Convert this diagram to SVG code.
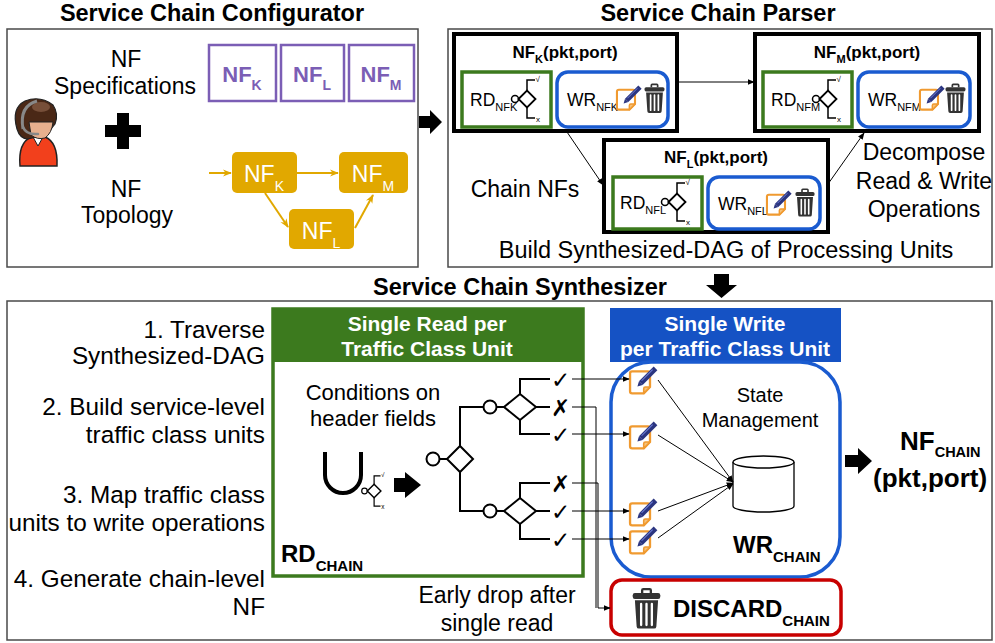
<svg xmlns="http://www.w3.org/2000/svg" width="995" height="643" viewBox="0 0 995 643">
<style>
  text { font-family: "Liberation Sans", Arial, sans-serif; fill: #000; }
  .t23 { font-size: 23px; }
  .step { font-size: 24.3px; text-anchor: end; }
  .title { font-size: 23.5px; font-weight: bold; text-anchor: middle; }
  .mid { text-anchor: middle; }
  .panel { fill: #fff; stroke: #4a4a4a; stroke-width: 1.5; }
  .spec { fill: #fff; stroke: #7b5eb5; stroke-width: 2.5; }
  .spect { font-size: 22px; font-weight: bold; fill: #7b5eb5; text-anchor: middle; }
  .topo { fill: #e1a800; }
  .topot { font-size: 23px; fill: #fff; text-anchor: middle; }
  .goldln { stroke: #e1a800; stroke-width: 2; fill: none; marker-end: url(#ag); }
  .nf { fill: #fff; stroke: #000; stroke-width: 4; }
  .nft { font-size: 17px; font-weight: bold; text-anchor: middle; }
  .rd { fill: #fff; stroke: #3c7a1e; stroke-width: 3.5; }
  .wr { fill: #fff; stroke: #1a5bd0; stroke-width: 3.5; }
  .unit { font-size: 17.5px; }
  .ln { stroke: #000; stroke-width: 1; fill: none; }
  .arr { marker-end: url(#ab); }
  .tree { stroke: #000; stroke-width: 2; fill: none; }
  .node { stroke: #000; stroke-width: 2; fill: #fff; }
  .mark { font-family: "DejaVu Sans", sans-serif; font-size: 23px; }
  .hdr { font-size: 21px; font-weight: bold; fill: #fff; text-anchor: middle; }
</style>
<defs>
  <marker id="ab" viewBox="0 0 10 10" refX="9" refY="5" markerWidth="7" markerHeight="7" orient="auto" markerUnits="userSpaceOnUse">
    <path d="M0,1 L10,5 L0,9 Z" fill="#000"/>
  </marker>
  <marker id="ag" viewBox="0 0 10 10" refX="9" refY="5" markerWidth="9" markerHeight="9" orient="auto" markerUnits="userSpaceOnUse">
    <path d="M0,1 L10,5 L0,9 L3,5 Z" fill="#e1a800"/>
  </marker>
  <!-- note with pen: write operation -->
  <g id="edit">
    <path d="M3,6 H18 Q20,6 20,8 V21 L14,27 H3 Q1,27 1,25 V8 Q1,6 3,6 Z" fill="#fff" stroke="#f09a30" stroke-width="2.2" stroke-linejoin="round"/>
    <path d="M20,21 H15.5 Q14,21 14,22.5 V27 Z" fill="#f6c27a" stroke="#f09a30" stroke-width="1.5" stroke-linejoin="round"/>
    <path d="M23.5,1.5 L27,5 L13,19 L9.5,15.5 Z" fill="#2b3580"/>
    <path d="M9.5,15.5 L13,19 L8,20.5 Z" fill="#2b3580"/>
    <path d="M22.5,4.5 L12,15" stroke="#7080d8" stroke-width="1"/>
  </g>
  <!-- trash bin: drop -->
  <g id="trash">
    <path d="M7,3.5 V1.6 Q7,0.8 7.8,0.8 H12.2 Q13,0.8 13,1.6 V3.5" stroke="#333" stroke-width="1.6" fill="none"/>
    <rect x="0.5" y="3.5" width="19" height="4" rx="1.5" fill="#333"/>
    <path d="M2,8.5 H18 L16.8,26.5 Q16.7,28 15.2,28 H4.8 Q3.3,28 3.2,26.5 Z" fill="#333"/>
    <path d="M6.3,11 V25.5 M10,11 V25.5 M13.7,11 V25.5" stroke="#fff" stroke-width="1.6" stroke-linecap="round"/>
  </g>
  <!-- small read/decision glyph -->
  <g id="dec">
    <circle cx="0" cy="0" r="3.5" fill="#fff" stroke="#000" stroke-width="1.5"/>
    <path d="M3.5,0 L12,-8.5 L20.5,0 L12,8.5 Z" fill="#fff" stroke="#000" stroke-width="1.8"/>
    <path d="M12,-8.5 V-19 H20 M12,8.5 V19 H20" fill="none" stroke="#000" stroke-width="1.5"/>
    <text x="20.5" y="-17" font-size="8" font-family="DejaVu Sans, sans-serif">√</text>
    <text x="21" y="22.5" font-size="8">x</text>
  </g>
</defs>

<!-- ===== Service Chain Configurator ===== -->
<text class="title" x="212" y="21">Service Chain Configurator</text>
<rect class="panel" x="7" y="29" width="411" height="238"/>

<g id="operator">
  <path d="M20,166 Q18,143 31,137 H45 Q58,142 57,166 Z" fill="#f2401c" stroke="#222" stroke-width="1.5"/>
  <path d="M33,137 L38,146 L43,137 Z" fill="#fff" stroke="#222" stroke-width="1"/>
  <path d="M17,129 Q11,108 25,101 Q40,95 53,105 Q59,114 55,124 Q50,131 45,135 L28,139 Q20,139 17,129 Z" fill="#4a2816" stroke="#222" stroke-width="1.2"/>
  <path d="M29,122 H53 Q52,133 45,138 Q37,140 31,135 Z" fill="#e8b08e" stroke="#222" stroke-width="1"/>
  <ellipse cx="41" cy="107" rx="9" ry="5" fill="#8a6048" opacity="0.7"/>
  <path d="M23,129 Q19,106 37,101" stroke="#888" stroke-width="3" fill="none"/>
  <path d="M23,127 Q26,135 38,134" stroke="#888" stroke-width="2.5" fill="none" stroke-linecap="round"/>
</g>

<g id="spec-text">
  <text class="t23 mid" x="126" y="67">NF</text>
  <text class="t23 mid" x="125" y="94">Specifications</text>
</g>
<path id="plus" d="M117,113 H129 V125 H141 V137 H129 V149 H117 V137 H105 V125 H117 Z" fill="#000"/>
<g id="topo-text">
  <text class="t23 mid" x="126" y="197">NF</text>
  <text class="t23 mid" x="127" y="223">Topology</text>
</g>

<g id="spec-nfk">
  <rect class="spec" x="209" y="45" width="67" height="56"/>
  <text class="spect" x="242" y="82">NF<tspan dy="8" font-size="14">K</tspan></text>
</g>
<g id="spec-nfl">
  <rect class="spec" x="281" y="45" width="63" height="56"/>
  <text class="spect" x="312" y="82">NF<tspan dy="8" font-size="14">L</tspan></text>
</g>
<g id="spec-nfm">
  <rect class="spec" x="349" y="45" width="65" height="56"/>
  <text class="spect" x="381" y="82">NF<tspan dy="8" font-size="14">M</tspan></text>
</g>

<g id="topo-nfk">
  <rect class="topo" x="232" y="152" width="65" height="41" rx="5"/>
  <text class="topot" x="264" y="182">NF<tspan dy="9" font-size="14">K</tspan></text>
</g>
<g id="topo-nfm">
  <rect class="topo" x="339" y="152" width="69" height="41" rx="5"/>
  <text class="topot" x="373" y="182">NF<tspan dy="9" font-size="14">M</tspan></text>
</g>
<g id="topo-nfl">
  <rect class="topo" x="289" y="209" width="65" height="40" rx="5"/>
  <text class="topot" x="321" y="239">NF<tspan dy="9" font-size="14">L</tspan></text>
</g>
<g id="topo-links">
  <path class="goldln" d="M209,173 H231"/>
  <path class="goldln" d="M297,173 H338"/>
  <path class="goldln" d="M265,193 L288,227"/>
  <path class="goldln" d="M355,228 L373,195"/>
</g>

<!-- stage arrows -->
<path id="arrow-parse" d="M419,116 H430 V110 L442,122 L430,134 V128 H419 Z" fill="#000"/>
<path id="arrow-synth" d="M714,274 H729 V285 H737 L721.5,298 L706,285 H714 Z" fill="#000"/>

<!-- ===== Service Chain Parser ===== -->
<text class="title" x="718" y="21">Service Chain Parser</text>
<rect class="panel" x="448" y="29" width="544" height="238"/>

<g id="nfk-unit">
  <rect class="nf" x="454" y="34" width="223" height="97"/>
  <text class="nft" x="565" y="58">NF<tspan dy="5" font-size="11">K</tspan><tspan dy="-5">(pkt,port)</tspan></text>
  <rect class="rd" x="462" y="72" width="89" height="55"/>
  <text class="unit" x="470" y="106">RD<tspan dy="5" font-size="11">NFK</tspan></text>
  <use href="#dec" x="515" y="99"/>
  <rect class="wr" x="557" y="72" width="111" height="55" rx="11"/>
  <text class="unit" x="567" y="106">WR<tspan dy="5" font-size="11">NFK</tspan></text>
  <use href="#edit" transform="translate(616,84) scale(0.95)"/>
  <use href="#trash" transform="translate(644,83.5) scale(1.05)"/>
</g>

<g id="nfm-unit">
  <rect class="nf" x="755" y="34" width="224" height="97"/>
  <text class="nft" x="867" y="58">NF<tspan dy="5" font-size="11">M</tspan><tspan dy="-5">(pkt,port)</tspan></text>
  <rect class="rd" x="763" y="72" width="89" height="55"/>
  <text class="unit" x="771" y="106">RD<tspan dy="5" font-size="11">NFM</tspan></text>
  <use href="#dec" x="816" y="99"/>
  <rect class="wr" x="858" y="72" width="112" height="55" rx="11"/>
  <text class="unit" x="868" y="106">WR<tspan dy="5" font-size="11">NFM</tspan></text>
  <use href="#edit" transform="translate(919,84) scale(0.95)"/>
  <use href="#trash" transform="translate(945,83.5) scale(1.05)"/>
</g>

<g id="nfl-unit">
  <rect class="nf" x="604" y="140" width="224" height="92"/>
  <text class="nft" x="716" y="163">NF<tspan dy="5" font-size="11">L</tspan><tspan dy="-5">(pkt,port)</tspan></text>
  <rect class="rd" x="613" y="177" width="89" height="52"/>
  <text class="unit" x="620" y="209">RD<tspan dy="5" font-size="11">NFL</tspan></text>
  <use href="#dec" x="665" y="202"/>
  <rect class="wr" x="708" y="177" width="112" height="52" rx="11"/>
  <text class="unit" x="718" y="210">WR<tspan dy="5" font-size="11">NFL</tspan></text>
  <use href="#edit" transform="translate(766,189) scale(0.95)"/>
  <use href="#trash" transform="translate(795,188.5) scale(1.0)"/>
</g>

<g id="parser-links">
  <path class="ln arr" d="M677,82 H754"/>
  <path class="ln arr" d="M567,132 L603,185"/>
  <path class="ln arr" d="M828,184 L864,133"/>
</g>

<text class="t23 mid" x="525" y="197">Chain NFs</text>
<g id="decompose-text">
  <text class="t23 mid" x="924" y="160">Decompose</text>
  <text class="t23 mid" x="924" y="189">Read &amp; Write</text>
  <text class="t23 mid" x="924" y="217">Operations</text>
</g>
<text class="mid" x="726" y="258" font-size="23.5">Build Synthesized-DAG of Processing Units</text>

<!-- ===== Service Chain Synthesizer ===== -->
<text class="title" x="520" y="295">Service Chain Synthesizer</text>
<rect class="panel" x="7" y="301" width="985" height="339"/>

<g id="steps">
  <text class="step" x="265" y="338">1. Traverse</text>
  <text class="step" x="265" y="364">Synthesized-DAG</text>
  <text class="step" x="265" y="415">2. Build service-level</text>
  <text class="step" x="265" y="443">traffic class units</text>
  <text class="step" x="265" y="503">3. Map traffic class</text>
  <text class="step" x="265" y="531">units to write operations</text>
  <text class="step" x="265" y="587">4. Generate chain-level</text>
  <text class="step" x="265" y="615">NF</text>
</g>

<g id="rd-chain">
  <rect x="273" y="309" width="310" height="267" fill="#fff" stroke="#3c7a1e" stroke-width="3.5"/>
  <rect x="273" y="309" width="310" height="53" fill="#3c7a1e"/>
  <text class="hdr" x="427" y="331">Single Read per</text>
  <text class="hdr" x="427" y="356">Traffic Class Unit</text>
  <text class="mid" x="373" y="400" font-size="22">Conditions on</text>
  <text class="mid" x="373" y="426" font-size="22">header fields</text>
  <path d="M325,452 V475 A18,18 0 0 0 361,475 V452" fill="none" stroke="#000" stroke-width="4"/>
  <use href="#dec" transform="translate(364.5,491) scale(0.8)"/>
  <path d="M394,478 H405 V472 L421,485 L405,498 V492 H394 Z" fill="#000"/>
  <!-- decision tree -->
  <path class="tree" d="M439.5,459 H447 M460,446 V407 H483.5 M460,472 V511 H483.5 M496.5,407 H504 M496.5,511 H504
    M520,394 V379 H550 M536,407 H550 M520,420 V434 H550
    M520,498 V483 H550 M536,511 H550 M520,524 V539 H550"/>
  <circle class="node" cx="433" cy="459" r="6.5"/>
  <path class="node" d="M447,459 L460,446 L473,459 L460,472 Z"/>
  <circle class="node" cx="490" cy="407" r="6.5"/>
  <path class="node" d="M504,407 L520,394 L536,407 L520,420 Z"/>
  <circle class="node" cx="490" cy="511" r="6.5"/>
  <path class="node" d="M504,511 L520,498 L536,511 L520,524 Z"/>
  <text class="mark" x="551" y="388">✓</text>
  <text class="mark" x="551" y="416">✗</text>
  <text class="mark" x="551" y="443">✓</text>
  <text class="mark" x="551" y="492">✗</text>
  <text class="mark" x="551" y="520">✓</text>
  <text class="mark" x="551" y="548">✓</text>
  <text x="281" y="562" font-size="24" font-weight="bold">RD<tspan dy="9" font-size="15">CHAIN</tspan></text>
</g>

<g id="wr-chain">
  <rect x="610" y="308" width="231" height="54" fill="#1552c4"/>
  <text class="hdr" x="725" y="331">Single Write</text>
  <text class="hdr" x="725" y="356">per Traffic Class Unit</text>
  <rect x="611" y="362" width="229" height="215" rx="40" fill="#fff" stroke="#1a5bd0" stroke-width="3.5"/>
  <text class="mid" x="760" y="402" font-size="20">State</text>
  <text class="mid" x="760" y="427" font-size="20">Management</text>
  <path d="M733,462 V506 A30.5,6 0 0 0 794,506 V462" fill="#fff" stroke="#000" stroke-width="1.3"/>
  <ellipse cx="763.5" cy="462" rx="30.5" ry="6" fill="#fff" stroke="#000" stroke-width="1.3"/>
  <use href="#edit" transform="translate(629,365) scale(1.05)"/>
  <use href="#edit" transform="translate(629,420) scale(1.05)"/>
  <use href="#edit" transform="translate(629,497) scale(1.05)"/>
  <use href="#edit" transform="translate(629,525) scale(1.05)"/>
  <text x="733" y="553" font-size="24" font-weight="bold">WR<tspan dy="9" font-size="15">CHAIN</tspan></text>
</g>

<g id="discard-chain">
  <rect x="611" y="580" width="230" height="55" rx="11" fill="#fff" stroke="#c80000" stroke-width="3.5"/>
  <use href="#trash" transform="translate(632,588) scale(1.45)"/>
  <text x="673" y="617" font-size="24" font-weight="bold">DISCARD<tspan dy="9" font-size="15">CHAIN</tspan></text>
</g>

<g id="synth-links">
  <path class="ln arr" d="M572,379 H629"/>
  <path class="ln arr" d="M572,434 H629"/>
  <path class="ln arr" d="M572,511 H629"/>
  <path class="ln arr" d="M572,539 H629"/>
  <path class="ln" d="M572,407 H596 V608"/>
  <path class="ln arr" d="M572,483 H598 V608 H610"/>
  <path class="ln arr" d="M658,380 L733,482"/>
  <path class="ln arr" d="M658,435 L733,482"/>
  <path class="ln arr" d="M658,511 L733,483"/>
  <path class="ln arr" d="M658,538 L733,484"/>
</g>

<g id="nf-chain">
  <path d="M845,455 H858 V448 L872,461 L858,474 V467 H845 Z" fill="#000"/>
  <text x="900" y="450" font-size="26" font-weight="bold">NF<tspan dy="7" font-size="14.5">CHAIN</tspan></text>
  <text x="873" y="487" font-size="26" font-weight="bold">(pkt,port)</text>
</g>

<g id="early-drop">
  <text class="t23 mid" x="497" y="603">Early drop after</text>
  <text class="t23 mid" x="497" y="631">single read</text>
</g>
</svg>
